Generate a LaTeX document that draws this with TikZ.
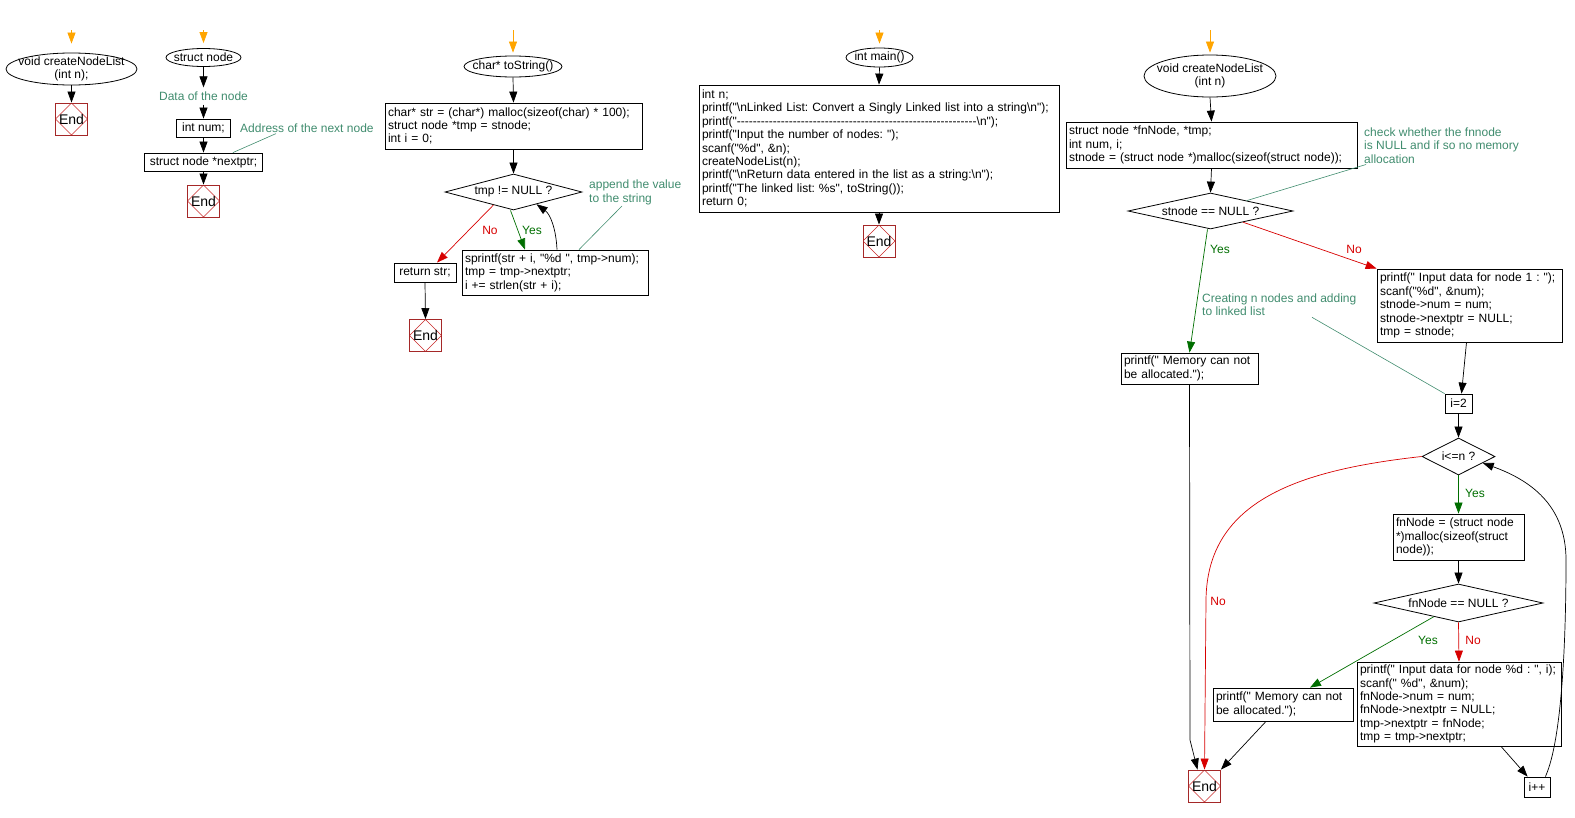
\documentclass[tikz,border=0pt]{standalone}
\usepackage{fontspec}
\setmainfont{Liberation Sans}[Ligatures=TeXOff]
\usetikzlibrary{shapes.geometric,arrows.meta}
\definecolor{orangec}{RGB}{255,165,0}
\definecolor{commc}{RGB}{64,140,110}
\definecolor{yesc}{RGB}{0,110,0}
\definecolor{noc}{RGB}{215,0,0}
\definecolor{endc}{RGB}{165,40,40}
\definecolor{endd}{RGB}{200,40,40}
\frenchspacing
\tikzset{
  every node/.style={font=\fontsize{12}{13.4}\selectfont\frenchspacing, inner sep=0pt},
  term/.style={draw, ellipse, line width=0.8pt, align=center, inner xsep=-12pt, inner ysep=-6pt},
  proc/.style={draw, rectangle, line width=0.8pt, align=left, inner xsep=3pt, inner ysep=0pt},
  decision/.style={draw, diamond, line width=0.8pt, inner sep=0pt},
  endbox/.style={draw=endc, line width=0.9pt, minimum width=32pt, minimum height=32pt,
    font=\fontsize{14}{16}\selectfont,
    path picture={\draw[endd, line width=0.6pt] (path picture bounding box.north) -- (path picture bounding box.east) -- (path picture bounding box.south) -- (path picture bounding box.west) -- cycle;}},
  comment/.style={text=commc, align=left, inner sep=1pt},
  arr/.style={-{Triangle[length=11pt,width=8pt]}, line width=0.7pt},
  orarr/.style={arr, draw=orangec},
  yesarr/.style={arr, draw=yesc},
  noarr/.style={arr, draw=noc},
  yeslbl/.style={text=yesc},
  nolbl/.style={text=noc},
  commline/.style={draw=commc, line width=0.6pt}
}
\begin{document}
\begin{tikzpicture}[x=1pt,y=-1pt]
\useasboundingbox (0,0) rectangle (1575,817);

% ---------- column 1 ----------
\coordinate (o1) at (71.5,30);
\node[term, minimum width=131pt, minimum height=32pt] (e1) at (71.5,69) {void createNodeList\\(int n);};
\node[endbox] (end1) at (71.5,119) {End};
\draw[orarr, shorten >=9pt] (o1) -- (e1.north);
\draw[arr] (e1.south) -- (end1.north);

% ---------- column 2 ----------
\coordinate (o2) at (203.5,30);
\node[term, minimum width=75pt, minimum height=18pt] (e2) at (203.5,57.5) {struct node};
\node[comment, inner ysep=4pt] (data) at (203.5,96) {Data of the node};
\node[proc, minimum width=54pt, minimum height=18pt] (intnum) at (203.5,128) {int num;};
\node[proc, minimum width=118pt, minimum height=18pt] (nextptr) at (203.5,162) {struct node *nextptr;};
\node[endbox] (end2) at (203.5,201) {End};
\node[comment, anchor=west] (addr) at (239,128) {Address of the next node};
\draw[orarr, shorten >=5pt] (o2) -- (e2.north);
\draw[arr] (e2.south) -- (data.north);
\draw[arr] (data.south) -- (intnum.north);
\draw[arr] (intnum.south) -- (nextptr.north);
\draw[arr] (nextptr.south) -- (end2.north);
\draw[commline] ([xshift=37pt]addr.south west) -- ([xshift=-30pt]nextptr.north east);

% ---------- column 3 ----------
\coordinate (o3) at (513,30);
\node[term, minimum width=98pt, minimum height=21pt] (e3) at (513,66.5) {char* toString()};
\node[proc, text width=251pt, minimum height=46pt] (b3) at (513.5,126) {char* str = (char*) malloc(sizeof(char) * 100);\\struct node *tmp = stnode;\\int i = 0;};
\node[decision, aspect=3.8, minimum width=137pt, minimum height=36pt] (d3) at (513.5,192) {tmp != NULL ?};
\node[proc, minimum width=62pt, minimum height=19pt] (ret) at (425,272.5) {return str;};
\node[proc, text width=180pt, minimum height=45pt] (spr) at (555,272.5) {sprintf(str + i, "\%d ", tmp->num);\\tmp = tmp->nextptr;\\i += strlen(str + i);};
\node[endbox] (end3) at (425.5,335.5) {End};
\node[comment, anchor=west] (app) at (588,192.5) {append the value\\to the string};
\draw[orarr, shorten >=3pt] (o3) -- (e3.north);
\draw[arr] (e3.south) -- (b3.north);
\draw[arr] (b3.south) -- (d3.north);
\draw[noarr] (d3.213) -- ([xshift=12pt]ret.north) node[nolbl] at (490,230) {No};
\draw[yesarr] ([xshift=-3pt]d3.south) -- ([xshift=-30pt]spr.north) node[yeslbl] at (532,230) {Yes};
\draw[arr] ([xshift=2pt]spr.north) .. controls (556,228) and (550,214) .. (d3.-28);
\draw[arr] (ret.south) -- (end3.north);
\draw[commline] ([xshift=34pt]app.south west) -- ([xshift=24pt]spr.north);

% ---------- column 4 ----------
\coordinate (o4) at (879.5,30);
\node[term, minimum width=67pt, minimum height=19pt] (e4) at (879.5,57.5) {int main()};
\node[proc, text width=354pt, minimum height=127pt] (b4) at (879,148.5) {int n;\\
printf("\textbackslash nLinked List: Convert a Singly Linked list into a string\textbackslash n");\\
printf("------------------------------------------------------------\textbackslash n");\\
printf("Input the number of nodes: ");\\
scanf("\%d", \&n);\\
createNodeList(n);\\
printf("\textbackslash nReturn data entered in the list as a string:\textbackslash n");\\
printf("The linked list: \%s", toString());\\
return 0;};
\node[endbox] (end4) at (879,241) {End};
\draw[orarr, shorten >=4pt] (o4) -- (e4.north);
\draw[arr] (e4.south) -- (b4.north);
\draw[arr] (b4.south) -- (end4.north);

% ---------- column 5 ----------
\coordinate (o5) at (1210,30);
\node[term, minimum width=132pt, minimum height=42pt] (e5) at (1210,76) {void createNodeList\\(int n)};
\node[proc, text width=285pt, minimum height=46pt] (b5) at (1211.5,145) {struct node *fnNode, *tmp;\\int num, i;\\stnode = (struct node *)malloc(sizeof(struct node));};
\node[decision, aspect=4.6, minimum width=165pt, minimum height=36pt] (d5) at (1210.5,211) {stnode == NULL ?};
\node[comment, anchor=west] (chk) at (1363,145.5) {check whether the fnnode\\is NULL and if so no memory\\allocation};
\node[proc, text width=131pt, minimum height=31pt] (mem1) at (1189.5,368.5) {printf(" Memory can not\\be allocated.");};
\node[proc, text width=179pt, minimum height=73pt] (p1) at (1469.5,305.5) {printf(" Input data for node 1 : ");\\scanf("\%d", \&num);\\stnode->num = num;\\stnode->nextptr = NULL;\\tmp = stnode;};
\node[comment, anchor=west] (cre) at (1201,305) {Creating n nodes and adding\\to linked list};
\node[proc, minimum width=27pt, minimum height=19pt] (i2) at (1458.5,403.5) {i=2};
\node[decision, aspect=2, minimum width=73pt, minimum height=37pt] (d6) at (1458.5,456.5) {i<=n ?};
\node[proc, text width=125pt, minimum height=46pt] (fn) at (1458.5,537) {fnNode = (struct node\\{*})malloc(sizeof(struct\\node));};
\node[decision, aspect=4.4, minimum width=169pt, minimum height=38pt] (d7) at (1458.5,603) {fnNode == NULL ?};
\node[proc, text width=134pt, minimum height=33pt] (mem2) at (1283,704.5) {printf(" Memory can not\\be allocated.");};
\node[proc, text width=198pt, minimum height=84pt] (p2) at (1459,704) {printf(" Input data for node \%d : ", i);\\scanf(" \%d", \&num);\\fnNode->num = num;\\fnNode->nextptr = NULL;\\tmp->nextptr = fnNode;\\tmp = tmp->nextptr;};
\node[endbox] (end5) at (1204.5,786) {End};
\node[proc, minimum width=26pt, minimum height=20pt] (ipp) at (1537,787) {i++};

\draw[orarr, shorten >=2pt] (o5) -- (e5.north);
\draw[arr] (e5.south) -- (b5.north);
\draw[arr] (b5.south) -- (d5.north);
\draw[commline] ([xshift=3pt]chk.south west) -- (d5.16);
\draw[yesarr] ([xshift=-3pt]d5.south) -- (mem1.north) node[yeslbl] at (1220,249) {Yes};
\draw[noarr] (d5.-19) -- (p1.north west) node[nolbl] at (1354,249) {No};
\draw[arr] (mem1.south) -- (1190,740) -- ([xshift=-7pt]end5.north);
\draw[arr] ([xshift=-3pt]p1.south) -- ([xshift=3pt]i2.north);
\draw[commline] ([xshift=111pt]cre.south west) -- (i2.north west);
\draw[arr] (i2.south) -- (d6.north);
\draw[noarr] (d6.west) .. controls (1300,470) and (1207,500) .. (1206,600) -- (end5.north) node[nolbl] at (1218,601) {No};
\draw[yesarr] (d6.south) -- (fn.north) node[yeslbl] at (1475,493) {Yes};
\draw[arr] (fn.south) -- (d7.north);
\draw[yesarr] (d7.209) -- ([xshift=27pt]mem2.north) node[yeslbl] at (1428,640) {Yes};
\draw[noarr] (d7.south) -- (p2.north) node[nolbl] at (1473,640) {No};
\draw[arr] ([xshift=-17pt]mem2.south) -- (end5.north east);
\draw[arr] ([xshift=42pt]p2.south) -- ([xshift=4pt]ipp.north west);
\draw[arr] ([xshift=-5pt]ipp.north east) .. controls (1562,740) and (1566,640) .. (1566,560) .. controls (1566,505) and (1530,480) .. (d6.-15);
\end{tikzpicture}
\end{document}
